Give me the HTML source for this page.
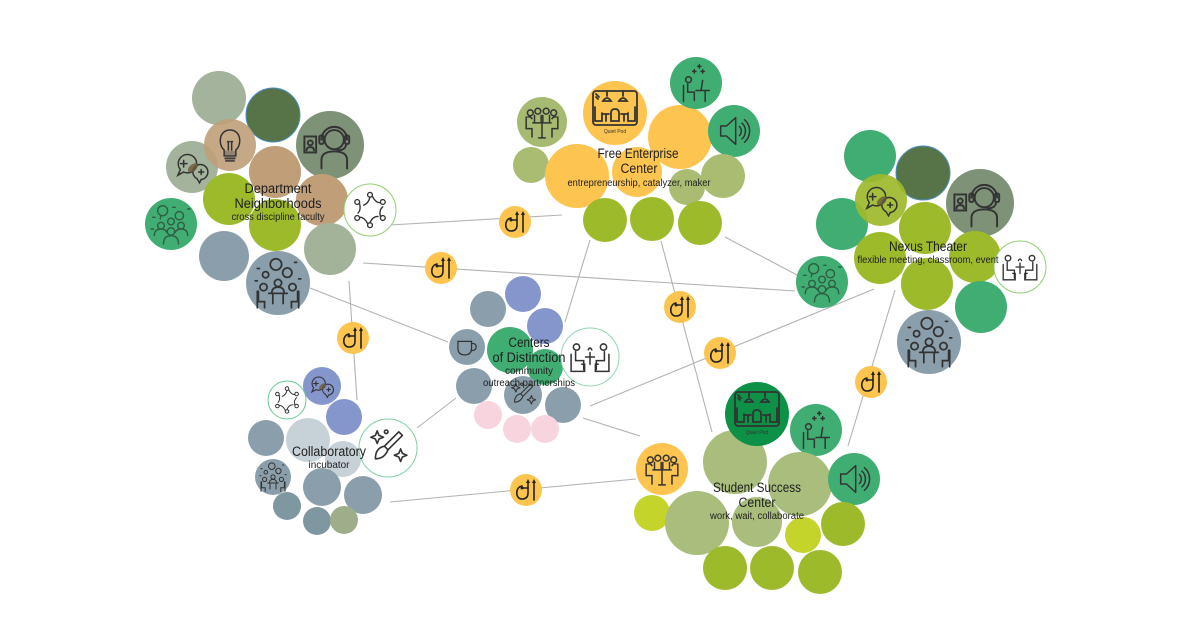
<!DOCTYPE html>
<html><head><meta charset="utf-8"><style>
html,body{margin:0;padding:0;background:#fff;}
svg{display:block;}
text{font-family:"Liberation Sans",sans-serif;fill:#1e1e1e;}
</style></head><body>
<svg width="1200" height="630" viewBox="0 0 1200 630" xmlns="http://www.w3.org/2000/svg">
<defs>
<symbol id="headset" viewBox="-30 -30 60 60"><g fill="none" stroke="#333" stroke-width="1.8" stroke-linecap="round">
<circle cx="4" cy="-5" r="9"/><path d="M-8,-5 a12,12 0 0 1 24,0"/>
<rect x="-10" y="-9" width="4" height="8" rx="1.5"/><rect x="14" y="-9" width="4" height="8" rx="1.5"/>
<path d="M15,-1 q0,6 -8,6"/><path d="M-8,22 v-8 q0,-8 12,-8 q12,0 12,8 v8"/>
<rect x="-24" y="-8" width="11" height="15"/><circle cx="-18.5" cy="-2" r="2.3"/><path d="M-22,5 q0,-3 3.5,-3 q3.5,0 3.5,3"/></g></symbol>
<symbol id="meet" viewBox="-30 -30 60 60"><g fill="none" stroke="#333" stroke-width="1.8" stroke-linecap="round">
<circle cx="-14" cy="-11" r="3.5"/><circle cx="-5" cy="-13" r="3.5"/><circle cx="5" cy="-13" r="3.5"/><circle cx="14" cy="-11" r="3.5"/>
<path d="M-19,-6 v14 h7 v10 M-17,-6 q3,-1 5,2"/><path d="M19,-6 v14 h-7 v10 M17,-6 q-3,-1 -5,2"/>
<path d="M-9,-8 v8 M-1,-8 v8 M1,-8 v8 M9,-8 v8"/><path d="M-11,1 h22 M0,1 v18 M-4,19 h8"/></g></symbol>
<symbol id="group" viewBox="-30 -30 60 60"><g fill="none" stroke="#2f5e45" stroke-width="1.7" stroke-linecap="round">
<circle cx="-10" cy="-16" r="6"/><path d="M-12,-10 l-1,4"/><circle cx="10" cy="-10" r="5"/>
<circle cx="-12" cy="2" r="4"/><circle cx="12" cy="2" r="4"/><circle cx="0" cy="-3" r="4"/><circle cx="0" cy="9" r="4.5"/>
<path d="M-20,14 q0,-8 8,-8 q5,0 7,4"/><path d="M20,14 q0,-8 -8,-8 q-5,0 -7,4"/><path d="M-9,24 q0,-10 9,-10 q9,0 9,10"/>
<path d="M-22,-8 h3 M2,-20 h3 M20,-18 h3 M-24,6 h3"/></g></symbol>
<symbol id="crowdtable" viewBox="-30 -30 60 60"><g fill="none" stroke="#333" stroke-width="1.7" stroke-linecap="round">
<circle cx="-2" cy="-18" r="5.5"/><circle cx="9" cy="-10" r="4.5"/><circle cx="-12" cy="-8" r="3"/>
<circle cx="0" cy="0" r="3.5"/><circle cx="-14" cy="4" r="3.5"/><circle cx="14" cy="4" r="3.5"/>
<path d="M-6,10 q0,-6 6,-6 q6,0 6,6"/><path d="M-9,10 h18 M-5,10 v10 M5,10 v10"/>
<path d="M-19,8 v10 h6 v6 M-20,8 v16"/><path d="M19,8 v10 h-6 v6 M20,8 v16"/>
<path d="M-20,-14 h2 M16,-20 h2 M-22,-2 h2 M20,-4 h2"/></g></symbol>
<symbol id="lounge" viewBox="-30 -30 60 60"><g fill="none" stroke="#333" stroke-width="1.7" stroke-linecap="round">
<circle cx="-15" cy="-11" r="3.5"/><path d="M-16,-6 v10 h9 v10"/><path d="M-21,-3 v19 h15 v-8 h-3"/>
<circle cx="15" cy="-11" r="3.5"/><path d="M16,-6 v10 h-9 v10"/><path d="M21,-3 v19 h-15 v-8 h3"/>
<path d="M-5,0 h10 M0,0 v8 M0,0 v-5 M-2,-8 q2,-4 4,0"/></g></symbol>
<symbol id="network" viewBox="-30 -30 60 60"><g fill="none" stroke="#333" stroke-width="1.7" stroke-linecap="round">
<circle cx="0" cy="-19" r="3"/><circle cx="16" cy="-10" r="3"/><circle cx="16" cy="10" r="3"/><circle cx="0" cy="19" r="3"/><circle cx="-16" cy="10" r="3"/><circle cx="-16" cy="-10" r="3"/>
<path d="M0,-16 q-2,8 -8,10"/><path d="M13,-9 q-6,0 -10,-8"/><path d="M13,8 q-2,-8 3,-12"/><path d="M0,16 q3,-8 10,-8"/><path d="M-13,9 q6,0 10,8"/><path d="M-13,-8 q2,8 -2,12"/></g></symbol>
<symbol id="bulb" viewBox="-30 -30 60 60"><g fill="none" stroke="#333" stroke-width="1.8" stroke-linecap="round">
<path d="M-7,6 C-15,-1 -13,-18 0,-18 C13,-18 15,-1 7,6 V13 H-7 Z"/><path d="M-2,6 V-4 M2,6 V-4 M-3,-4 h2 M1,-4 h2"/>
<path d="M-6,16 H6 M-5,19 H5"/></g><rect x="-6" y="7" width="12" height="12" fill="#555" opacity=".45"/></symbol>
<symbol id="speech" viewBox="-30 -30 60 60"><g fill="none" stroke="#333" stroke-width="1.8" stroke-linecap="round">
<path d="M-6,-15 a11,11 0 1 1 -4,21 l-7,4 l3,-7 a11,11 0 0 1 8,-18z"/><path d="M9,-3 a9,9 0 1 1 2,18 l-2,4 l-3,-5 a9,9 0 0 1 3,-17z"/>
<path d="M-14,-4 h8 M-10,-8 v8 M8,6 h6 M11,3 v6"/></g><ellipse cx="1" cy="1" rx="7" ry="4" transform="rotate(-40 1 1)" fill="#6b5a3d" opacity=".8"/></symbol>
<symbol id="quietpod" viewBox="-30 -30 60 60"><g fill="none" stroke="#333" stroke-width="1.8" stroke-linecap="round">
<rect x="-22" y="-22" width="44" height="34" rx="3"/><path d="M-19,-19 l3,3 M-19,-16 l2,2"/>
<path d="M-8,-22 v5 M8,-22 v5 M-12,-12 q4,-6 8,0 z M4,-12 q4,-6 8,0 z"/>
<path d="M-20,-6 v14 h7 v-8 M20,-6 v14 h-7 v-8 M-4,0 v8 h8 v-8 q0,-4 -4,-4 q-4,0 -4,4"/>
<path d="M-12,1 h6 M-9,1 v7 M6,1 h6 M9,1 v7"/></g>
<text x="0" y="20" font-size="5" text-anchor="middle" style="fill:#333">Quiet Pod</text></symbol>
<symbol id="desk" viewBox="-30 -30 60 60"><g fill="none" stroke="#333" stroke-width="1.8" stroke-linecap="round">
<circle cx="-9" cy="-4" r="3.5"/><path d="M-10,1 v10 h8 v10"/><path d="M-15,3 v19"/><path d="M0,9 h16 M11,9 v13 M6,9 l2,-12"/>
<path d="M4,-22 v4 M2,-20 h4 M8,-16 v4 M6,-14 h4 M-2,-16 v4 M-4,-14 h4"/></g></symbol>
<symbol id="speaker" viewBox="-30 -30 60 60"><g fill="none" stroke="#333" stroke-width="1.8" stroke-linejoin="round">
<path d="M-16,-6 h7 l11,-10 v32 l-11,-10 h-7 z"/><path d="M6,-6 a8,8 0 0 1 0,12 M9,-10 a13,13 0 0 1 0,20 M12,-14 a18,18 0 0 1 0,28"/></g></symbol>
<symbol id="cup" viewBox="-30 -30 60 60"><g fill="none" stroke="#333" stroke-width="2.2" stroke-linecap="round">
<path d="M-16,-10 h24 v12 q0,12 -12,12 q-12,0 -12,-12 z"/><path d="M8,-6 q9,-1 8,7 q-1,6 -9,5"/></g></symbol>
<symbol id="brush" viewBox="-30 -30 60 60"><g fill="none" stroke="#333" stroke-width="1.8" stroke-linejoin="round">
<path d="M12,-18 l4,4 l-16,16 l-4,-4z"/><path d="M-4,-2 q-10,2 -10,14 q10,0 14,-10"/>
<path d="M-14,-14 l2,-5 l2,5 l5,2 l-5,2 l-2,5 l-2,-5 l-5,-2z"/><path d="M12,6 l2,-5 l2,5 l5,2 l-5,2 l-2,5 l-2,-5 l-5,-2z"/><circle cx="-2" cy="-18" r="2"/></g></symbol>
<symbol id="badge" viewBox="-16 -16 32 32"><circle r="16" fill="#fdc44f"/>
<g fill="none" stroke="#222" stroke-width="1.6" stroke-linecap="round">
<path d="M-4,-4 C-11,-3 -11,9 -4,9 C0,9 2,7 2,3 V-8"/><path d="M-4,-2 H2"/><path d="M8,10 V-8"/></g>
<circle cx="-4" cy="-2" r="1.5" fill="#222"/><path d="M0,-7 L2,-11 L4,-7Z M6,-7 L8,-11 L10,-7Z" fill="#222"/></symbol>
</defs>

<rect width="1200" height="630" fill="#fff"/>

<!-- connectors -->
<g stroke="#b3b3b3" stroke-width="1.1" fill="none">
<line x1="390" y1="225" x2="562" y2="215"/>
<line x1="363" y1="263" x2="795" y2="291"/>
<line x1="349" y1="281" x2="357" y2="400"/>
<line x1="310" y1="288" x2="448" y2="342"/>
<line x1="590" y1="240" x2="565" y2="322"/>
<line x1="661" y1="241" x2="712" y2="432"/>
<line x1="725" y1="237" x2="797" y2="275"/>
<line x1="590" y1="406" x2="874" y2="289"/>
<line x1="583" y1="418" x2="640" y2="436"/>
<line x1="417" y1="428" x2="456" y2="398"/>
<line x1="390" y1="502" x2="636" y2="479"/>
<line x1="895" y1="290" x2="848" y2="446"/>
</g>

<!-- Department Neighborhoods -->
<circle cx="219" cy="98" r="27" fill="#a4b39b"/>
<circle cx="273" cy="115" r="27" fill="#577448" stroke="#4a8fc0" stroke-width="1"/>
<circle cx="330" cy="145" r="34" fill="#7d9277"/>
<circle cx="192" cy="167" r="26" fill="#a4b39b"/>
<circle cx="230" cy="145" r="26" fill="#bf9e78" opacity=".9"/>
<circle cx="275" cy="172" r="26" fill="#bf9e78"/>
<circle cx="229" cy="199" r="26" fill="#9dba2b"/>
<circle cx="275" cy="225" r="26" fill="#9dba2b"/>
<circle cx="322" cy="200" r="26" fill="#bf9e78"/>
<circle cx="171" cy="224" r="26" fill="#40ae72"/>
<circle cx="370" cy="210" r="26" fill="#fff" stroke="#8fd070" stroke-width="1"/>
<circle cx="330" cy="249" r="26" fill="#a2b39a"/>
<circle cx="224" cy="256" r="25" fill="#8a9fab"/>
<circle cx="278" cy="283" r="32" fill="#8a9fab"/>
<use href="#bulb" x="205" y="120" width="50" height="50"/>
<use href="#speech" x="167" y="142" width="50" height="50"/>
<use href="#headset" x="298" y="113" width="64" height="64"/>
<use href="#group" x="146" y="199" width="50" height="50"/>
<use href="#network" x="346" y="186" width="48" height="48"/>
<use href="#crowdtable" x="247" y="252" width="62" height="62"/>

<!-- Free Enterprise -->
<circle cx="542" cy="122" r="25" fill="#a7ba72"/>
<circle cx="531" cy="165" r="18" fill="#a9bc72"/>
<circle cx="577" cy="176" r="32" fill="#fdc44f"/>
<circle cx="637" cy="172" r="25" fill="#fdc44f"/>
<circle cx="615" cy="113" r="32" fill="#fdc44f"/>
<circle cx="680" cy="137" r="32" fill="#fdc44f"/>
<circle cx="696" cy="83" r="26" fill="#40ae72"/>
<circle cx="734" cy="131" r="26" fill="#40ae72"/>
<circle cx="723" cy="176" r="22" fill="#a9bc72"/>
<circle cx="687" cy="187" r="18" fill="#a9bc72"/>
<circle cx="605" cy="220" r="22" fill="#9dba2b"/>
<circle cx="652" cy="219" r="22" fill="#9dba2b"/>
<circle cx="700" cy="223" r="22" fill="#9dba2b"/>
<use href="#meet" x="517" y="97" width="50" height="50"/>
<use href="#quietpod" x="585" y="83" width="60" height="60"/>
<use href="#desk" x="671" y="58" width="50" height="50"/>
<use href="#speaker" x="709" y="106" width="50" height="50"/>

<!-- Nexus Theater -->
<circle cx="870" cy="156" r="26" fill="#40ae72"/>
<circle cx="923" cy="173" r="27" fill="#577448" stroke="#4a8fc0" stroke-width="1"/>
<circle cx="980" cy="203" r="34" fill="#7d9277"/>
<circle cx="842" cy="224" r="26" fill="#40ae72"/>
<circle cx="881" cy="200" r="26" fill="#9dba2b" opacity=".92"/>
<circle cx="925" cy="228" r="26" fill="#9dba2b"/>
<circle cx="880" cy="258" r="26" fill="#9dba2b"/>
<circle cx="975" cy="257" r="26" fill="#9dba2b"/>
<circle cx="927" cy="284" r="26" fill="#9dba2b"/>
<circle cx="1020" cy="267" r="26" fill="#fff" stroke="#8fd070" stroke-width="1"/>
<circle cx="822" cy="282" r="26" fill="#40ae72"/>
<circle cx="981" cy="307" r="26" fill="#40ae72"/>
<circle cx="929" cy="342" r="32" fill="#8a9fab"/>
<use href="#speech" x="856" y="175" width="50" height="50"/>
<use href="#headset" x="948" y="171" width="64" height="64"/>
<use href="#lounge" x="996" y="243" width="48" height="48"/>
<use href="#group" x="797" y="257" width="50" height="50"/>
<use href="#crowdtable" x="898" y="311" width="62" height="62"/>

<!-- Centers of Distinction -->
<circle cx="488" cy="309" r="18" fill="#8a9fab"/>
<circle cx="523" cy="294" r="18" fill="#8596cc"/>
<circle cx="545" cy="326" r="18" fill="#8596cc"/>
<circle cx="467" cy="347" r="18" fill="#8a9fab"/>
<circle cx="510" cy="350" r="23" fill="#40ae72"/>
<circle cx="545" cy="367" r="18" fill="#40ae72"/>
<circle cx="590" cy="357" r="29" fill="#fff" stroke="#8fd8b0" stroke-width="1"/>
<circle cx="474" cy="386" r="18" fill="#8a9fab"/>
<circle cx="523" cy="395" r="19" fill="#8a9fab"/>
<circle cx="563" cy="405" r="18" fill="#8a9fab"/>
<circle cx="488" cy="415" r="14" fill="#f8d4df"/>
<circle cx="517" cy="429" r="14" fill="#f8d4df"/>
<circle cx="545" cy="429" r="14" fill="#f8d4df"/>
<use href="#cup" x="450" y="330" width="34" height="34"/>
<use href="#lounge" x="563" y="330" width="54" height="54"/>
<use href="#brush" x="505" y="377" width="36" height="36"/>

<!-- Collaboratory -->
<circle cx="322" cy="386" r="19" fill="#8596cc"/>
<circle cx="287" cy="400" r="19" fill="#fff" stroke="#6cc994" stroke-width="1"/>
<circle cx="344" cy="417" r="18" fill="#8596cc"/>
<circle cx="266" cy="438" r="18" fill="#8a9fab"/>
<circle cx="308" cy="440" r="22" fill="#c7d2d8"/>
<circle cx="343" cy="459" r="18" fill="#c7d2d8"/>
<circle cx="388" cy="448" r="29" fill="#fff" stroke="#7fd3a6" stroke-width="1"/>
<circle cx="273" cy="477" r="18" fill="#8a9fab"/>
<circle cx="322" cy="487" r="19" fill="#8a9fab"/>
<circle cx="363" cy="495" r="19" fill="#8a9fab"/>
<circle cx="287" cy="506" r="14" fill="#7f97a0"/>
<circle cx="317" cy="521" r="14" fill="#7f97a0"/>
<circle cx="344" cy="520" r="14" fill="#9fae8a"/>
<use href="#speech" x="304" y="368" width="36" height="36"/>
<use href="#network" x="269" y="382" width="36" height="36"/>
<use href="#brush" x="361" y="421" width="54" height="54"/>
<use href="#crowdtable" x="255" y="459" width="36" height="36"/>

<!-- Student Success Center -->
<circle cx="662" cy="469" r="26" fill="#fdc44f"/>
<circle cx="652" cy="513" r="18" fill="#c4d42b"/>
<circle cx="735" cy="462" r="32" fill="#a9be7c"/>
<circle cx="757" cy="414" r="32" fill="#0c9146"/>
<circle cx="816" cy="430" r="26" fill="#40ae72"/>
<circle cx="800" cy="484" r="32" fill="#a9be7c"/>
<circle cx="854" cy="479" r="26" fill="#40ae72"/>
<circle cx="697" cy="523" r="32" fill="#a9be7c"/>
<circle cx="757" cy="522" r="25" fill="#a9be7c"/>
<circle cx="843" cy="524" r="22" fill="#9dba2b"/>
<circle cx="803" cy="535" r="18" fill="#c4d42b"/>
<circle cx="725" cy="568" r="22" fill="#9dba2b"/>
<circle cx="772" cy="568" r="22" fill="#9dba2b"/>
<circle cx="820" cy="572" r="22" fill="#9dba2b"/>
<use href="#meet" x="637" y="444" width="50" height="50"/>
<use href="#quietpod" x="727" y="384" width="60" height="60"/>
<use href="#desk" x="791" y="405" width="50" height="50"/>
<use href="#speaker" x="829" y="454" width="50" height="50"/>

<!-- badges -->
<use href="#badge" x="499" y="206" width="32" height="32"/>
<use href="#badge" x="425" y="252" width="32" height="32"/>
<use href="#badge" x="337" y="322" width="32" height="32"/>
<use href="#badge" x="664" y="291" width="32" height="32"/>
<use href="#badge" x="704" y="337" width="32" height="32"/>
<use href="#badge" x="855" y="366" width="32" height="32"/>
<use href="#badge" x="510" y="474" width="32" height="32"/>

<!-- labels -->
<g text-anchor="middle">
<text x="278" y="193" font-size="13.5" textLength="67" lengthAdjust="spacingAndGlyphs">Department</text>
<text x="278" y="208" font-size="13.5" textLength="87" lengthAdjust="spacingAndGlyphs">Neighborhoods</text>
<text x="278" y="220" font-size="10" textLength="93" lengthAdjust="spacingAndGlyphs">cross discipline faculty</text>

<text x="638" y="158" font-size="13.5" textLength="81" lengthAdjust="spacingAndGlyphs">Free Enterprise</text>
<text x="639" y="173" font-size="13.5" textLength="37" lengthAdjust="spacingAndGlyphs">Center</text>
<text x="639" y="186" font-size="10" textLength="143" lengthAdjust="spacingAndGlyphs">entrepreneurship, catalyzer, maker</text>

<text x="928" y="251" font-size="13.5" textLength="78" lengthAdjust="spacingAndGlyphs">Nexus Theater</text>
<text x="928" y="263" font-size="10" textLength="141" lengthAdjust="spacingAndGlyphs">flexible meeting, classroom, event</text>

<text x="529" y="347" font-size="13.5" textLength="41" lengthAdjust="spacingAndGlyphs">Centers</text>
<text x="529" y="362" font-size="13.5" textLength="73" lengthAdjust="spacingAndGlyphs">of Distinction</text>
<text x="529" y="374" font-size="10" textLength="48" lengthAdjust="spacingAndGlyphs">community</text>
<text x="529" y="386" font-size="10" textLength="92" lengthAdjust="spacingAndGlyphs">outreach partnerships</text>

<text x="329" y="456" font-size="13.5" textLength="74" lengthAdjust="spacingAndGlyphs">Collaboratory</text>
<text x="329" y="468" font-size="10" textLength="41" lengthAdjust="spacingAndGlyphs">incubator</text>

<text x="757" y="492" font-size="13.5" textLength="88" lengthAdjust="spacingAndGlyphs">Student Success</text>
<text x="757" y="507" font-size="13.5" textLength="37" lengthAdjust="spacingAndGlyphs">Center</text>
<text x="757" y="519" font-size="10" textLength="94" lengthAdjust="spacingAndGlyphs">work, wait, collaborate</text>
</g>
</svg>
</body></html>
